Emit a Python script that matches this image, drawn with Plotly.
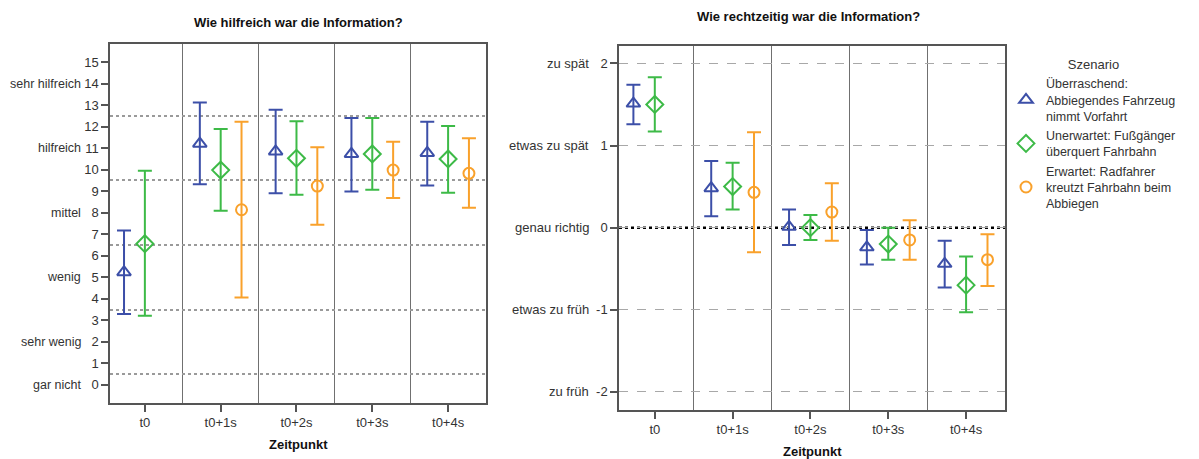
import plotly.graph_objects as go

# the page body has an 8px margin; the figure is laid out in reference pixels shifted by it
OX, OY = 8, 8
FW, FH = 1191, 451

# ---------------- data ----------------
ZEITPUNKTE = ["t0", "t0+1s", "t0+2s", "t0+3s", "t0+4s"]
SZENARIEN = [
    "Überraschend:<br>Abbiegendes Fahrzeug<br>nimmt Vorfahrt",
    "Unerwartet: Fußgänger<br>überquert Fahrbahn",
    "Erwartet: Radfahrer<br>kreutzt Fahrbahn beim<br>Abbiegen",
]

# Wie hilfreich war die Information? (mean, upper CI, lower CI)
HILF_MEAN_BLAU = [5.24, 11.21, 10.85, 10.73, 10.78]
HILF_UP_BLAU = [7.18, 13.12, 12.78, 12.40, 12.23]
HILF_LO_BLAU = [3.30, 9.32, 8.90, 8.99, 9.27]
HILF_MEAN_GRUEN = [6.56, 9.98, 10.53, 10.73, 10.50]
HILF_UP_GRUEN = [9.95, 11.89, 12.25, 12.40, 12.03]
HILF_LO_GRUEN = [3.21, 8.09, 8.84, 9.07, 8.93]
HILF_MEAN_ORANGE = [None, 8.14, 9.24, 9.98, 9.83]
HILF_UP_ORANGE = [None, 12.23, 11.04, 11.30, 11.46]
HILF_LO_ORANGE = [None, 4.06, 7.44, 8.68, 8.23]

# Wie rechtzeitig war die Information?
RECHT_MEAN_BLAU = [1.51, 0.48, 0.01, -0.24, -0.44]
RECHT_UP_BLAU = [1.74, 0.81, 0.22, -0.03, -0.16]
RECHT_LO_BLAU = [1.26, 0.14, -0.21, -0.45, -0.73]
RECHT_MEAN_GRUEN = [1.50, 0.50, 0.00, -0.20, -0.70]
RECHT_UP_GRUEN = [1.83, 0.79, 0.155, 0.00, -0.35]
RECHT_LO_GRUEN = [1.17, 0.22, -0.15, -0.39, -1.03]
RECHT_MEAN_ORANGE = [None, 0.43, 0.19, -0.15, -0.39]
RECHT_UP_ORANGE = [None, 1.16, 0.54, 0.09, -0.08]
RECHT_LO_ORANGE = [None, -0.30, -0.16, -0.39, -0.71]

HILF_TICKS = list(range(0, 16))
HILF_CAT_LABELS = ["gar nicht", "sehr wenig", "wenig", "mittel", "hilfreich", "sehr hilfreich"]
HILF_CAT_VALUES = [0, 2, 5, 8, 11, 14]
HILF_GRID = [0.5, 3.5, 6.5, 9.5, 12.5]

RECHT_TICKS = [-2, -1, 0, 1, 2]
RECHT_CAT_LABELS = ["zu früh", "etwas zu früh", "genau richtig", "etwas zu spät", "zu spät"]
RECHT_REF = 0

# ---------------- style ----------------
FONT = "Liberation Sans, Arial, sans-serif"
COLORS = ["#3c4fa8", "#3dba47", "#f9a12b"]
SYMBOLS = ["triangle-up-open", "diamond-open", "circle-open"]
SIZES = [12, 13, 11]
OFFSETS = [-0.275, 0.0, 0.275]
FRAME = "#555555"
TXT = "#333333"


def px(x):
    return (x - OX) / FW


def py(y):
    return 1 - (y - OY) / FH


fig = go.Figure()


def add_series(means, ups, los, idx, xa, ya, show):
    xs = [i + OFFSETS[idx] for i in range(len(ZEITPUNKTE))]
    plus = [None if m is None else u - m for m, u in zip(means, ups)]
    minus = [None if m is None else m - l for m, l in zip(means, los)]
    fig.add_trace(go.Scatter(
        x=xs, y=means, xaxis=xa, yaxis=ya, mode="markers",
        name=SZENARIEN[idx], showlegend=show,
        marker=dict(symbol=SYMBOLS[idx], size=SIZES[idx], color=COLORS[idx],
                    line=dict(width=2, color=COLORS[idx])),
        error_y=dict(type="data", symmetric=False, array=plus, arrayminus=minus,
                     color=COLORS[idx], thickness=2, width=7),
    ))


hilf = [(HILF_MEAN_BLAU, HILF_UP_BLAU, HILF_LO_BLAU),
        (HILF_MEAN_GRUEN, HILF_UP_GRUEN, HILF_LO_GRUEN),
        (HILF_MEAN_ORANGE, HILF_UP_ORANGE, HILF_LO_ORANGE)]
recht = [(RECHT_MEAN_BLAU, RECHT_UP_BLAU, RECHT_LO_BLAU),
         (RECHT_MEAN_GRUEN, RECHT_UP_GRUEN, RECHT_LO_GRUEN),
         (RECHT_MEAN_ORANGE, RECHT_UP_ORANGE, RECHT_LO_ORANGE)]

for i, (m, u, l) in enumerate(hilf):
    add_series(m, u, l, i, "x", "y", False)
for i, (m, u, l) in enumerate(recht):
    add_series(m, u, l, i, "x2", "y2", True)

seps = [i + 0.5 for i in range(len(ZEITPUNKTE) - 1)]

xcommon = dict(
    range=[-0.46, 4.5], tickvals=list(range(len(ZEITPUNKTE))), ticktext=ZEITPUNKTE,
    ticks="outside", ticklen=7, tickwidth=1.5, tickcolor=FRAME, automargin=False,
    showline=True, mirror=True, linecolor=FRAME, linewidth=1.5,
    showgrid=False, zeroline=False,
    tickfont=dict(family=FONT, size=13, color=TXT),
    minor=dict(tickvals=seps, showgrid=True, gridcolor="#707070", gridwidth=1, ticks=""),
)

fig.update_layout(
    template="none",
    width=FW, height=FH, margin=dict(l=0, r=0, t=0, b=0, autoexpand=False),
    paper_bgcolor="white", plot_bgcolor="white",
    font=dict(family=FONT, size=13, color=TXT),
    xaxis=dict(domain=[px(110), px(486)], anchor="y", **xcommon),
    xaxis2=dict(domain=[px(619), px(1005)], anchor="y2", **xcommon),
    yaxis=dict(
        domain=[py(403), py(44)], anchor="x", range=[-0.84, 15.84],
        tickvals=HILF_TICKS, ticks="outside", ticklen=7, tickwidth=1.5, tickcolor=FRAME,
        showline=True, mirror=True, linecolor=FRAME, linewidth=1.5, automargin=False,
        showgrid=False, zeroline=False,
        tickfont=dict(family=FONT, size=13, color=TXT),
        minor=dict(tickvals=HILF_GRID, showgrid=True, gridcolor="#9a9a9a",
                   gridwidth=1.5, griddash="dot", ticks=""),
    ),
    yaxis2=dict(
        domain=[py(410), py(45.7)], anchor="x2", range=[-2.22, 2.215],
        tickvals=RECHT_TICKS, ticktext=[str(v) for v in RECHT_TICKS],
        ticks="outside", ticklen=7, tickwidth=1.5, tickcolor=FRAME,
        showline=True, mirror=True, linecolor=FRAME, linewidth=1.5, automargin=False,
        showgrid=True, gridcolor="#a8a8a8", gridwidth=1, griddash="dash", zeroline=False,
        tickfont=dict(family=FONT, size=13, color=TXT),
    ),
    legend=dict(
        x=px(1006), y=py(52), xanchor="left", yanchor="top",
        title=dict(text="Szenario", side="top center", font=dict(family=FONT, size=13, color=TXT)),
        font=dict(family=FONT, size=12.5, color=TXT), tracegroupgap=0,
        itemwidth=30, bgcolor="rgba(0,0,0,0)", borderwidth=0,
    ),
)

# reference line at "genau richtig"
fig.add_shape(type="line", xref="x2 domain", yref="y2", x0=0, x1=1, y0=RECHT_REF, y1=RECHT_REF,
              line=dict(color="black", width=2.5, dash="dot"), layer="below")

# category text labels
for lab, v in zip(HILF_CAT_LABELS, HILF_CAT_VALUES):
    fig.add_annotation(text=lab, xref="paper", yref="y", x=px(83), y=v, xanchor="right",
                       showarrow=False, font=dict(family=FONT, size=12.5, color=TXT))
for lab, v in zip(RECHT_CAT_LABELS, RECHT_TICKS):
    fig.add_annotation(text=lab, xref="paper", yref="y2", x=px(591), y=v, xanchor="right",
                       showarrow=False, font=dict(family=FONT, size=13, color=TXT))

# titles
for txt, cx, cy in [("<b>Wie hilfreich war die Information?</b>", 298, 23),
                    ("<b>Wie rechtzeitig war die Information?</b>", 808, 17),
                    ("<b>Zeitpunkt</b>", 298, 444),
                    ("<b>Zeitpunkt</b>", 812, 451)]:
    fig.add_annotation(text=txt, xref="paper", yref="paper", x=px(cx), y=py(cy),
                       xanchor="center", yanchor="middle", showarrow=False,
                       font=dict(family=FONT, size=13, color="#111111"))

fig.write_html("out.html")
